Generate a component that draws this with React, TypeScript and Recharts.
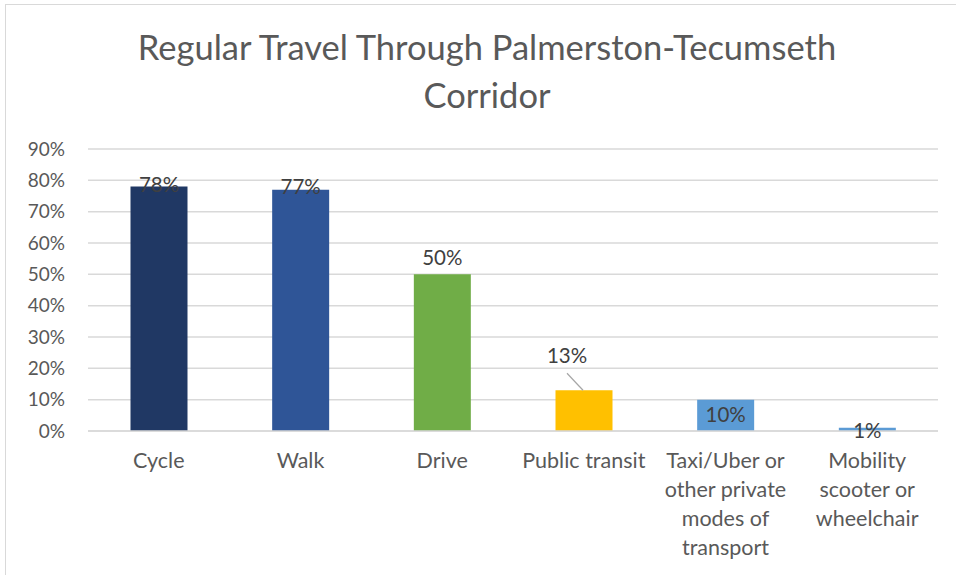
import { BarChart, Bar, XAxis, YAxis, CartesianGrid, Cell, LabelList } from "recharts";

const categories = ["Cycle", "Walk", "Drive", "Public transit", "Taxi/Uber", "Mobility"];
const shares = [0.78, 0.77, 0.5, 0.13, 0.1, 0.01];
const tickLines = [
  ["Cycle"],
  ["Walk"],
  ["Drive"],
  ["Public transit"],
  ["Taxi/Uber or", "other private", "modes of", "transport"],
  ["Mobility", "scooter or", "wheelchair"],
];
const yTicks = [0, 0.1, 0.2, 0.3, 0.4, 0.5, 0.6, 0.7, 0.8, 0.9];

const barColors = ["#203864", "#2F5597", "#70AD47", "#FFC000", "#5B9BD5", "#5B9BD5"];
// where Excel put each data label, relative to the bar top
const labelNudge = [
  { dx: 0, dy: -3, leader: false },
  { dx: 0, dy: -4, leader: false },
  { dx: 0, dy: -17, leader: false },
  { dx: -17, dy: -35, leader: true },
  { dx: 0, dy: 14, leader: false },
  { dx: 0, dy: 2, leader: false },
];

const data = categories.map((name, i) => ({ name, value: shares[i], idx: i }));

const FONT = "Lato, 'Open Sans', sans-serif";
const TEXT = "#595959";

const pct = (v: number) => `${Math.round(v * 100)}%`;

function CategoryTick(props: any) {
  const { x, y, payload } = props;
  const lines = tickLines[payload.index] ?? [payload.value];
  return (
    <g>
      {lines.map((line: string, i: number) => (
        <text
          key={i}
          x={x}
          y={y + 21 + i * 29}
          textAnchor="middle"
          dominantBaseline="central"
          fill={TEXT}
          fontSize={21.5}
          fontFamily={FONT}
        >
          {line}
        </text>
      ))}
    </g>
  );
}

function BarLabel(props: any) {
  const { x, y, width, value, index } = props;
  const n = labelNudge[index];
  const cx = x + width / 2;
  return (
    <g>
      {n.leader && (
        <line x1={cx + n.dx} y1={y - 17} x2={cx - 1} y2={y} stroke="#A6A6A6" strokeWidth={1.2} />
      )}
      <text
        x={cx + n.dx}
        y={y + n.dy}
        textAnchor="middle"
        dominantBaseline="central"
        fill="#404040"
        fontSize={20.5}
        fontFamily={FONT}
      >
        {pct(value)}
      </text>
    </g>
  );
}

export default function App() {
  return (
    <div style={{ position: "absolute", left: 0, top: 0, width: 956, height: 575, background: "#fff", overflow: "hidden" }}>
      <div
        style={{
          position: "absolute",
          left: 5,
          top: 4,
          width: 980,
          height: 600,
          border: "1.5px solid #D9D9D9",
          boxSizing: "border-box",
        }}
      />
      <div
        style={{
          position: "absolute",
          left: 0,
          top: 23,
          width: 974,
          textAlign: "center",
          color: TEXT,
          fontFamily: FONT,
          fontSize: 34.5,
          lineHeight: "48px",
        }}
      >
        Regular Travel Through Palmerston-Tecumseth
        <br />
        Corridor
      </div>
      <div style={{ position: "absolute", left: 0, top: 0 }}>
        <BarChart
          width={956}
          height={575}
          data={data}
          margin={{ top: 149, right: 18, bottom: 14, left: 0 }}
          barCategoryGap="30%"
        >
          <CartesianGrid vertical={false} stroke="#D9D9D9" strokeWidth={1.5} />
          <XAxis
            dataKey="name"
            height={130}
            tickLine={false}
            axisLine={{ stroke: "#D9D9D9", strokeWidth: 1.5 }}
            interval={0}
            tick={<CategoryTick />}
          />
          <YAxis
            width={88}
            domain={[0, 0.9]}
            ticks={yTicks}
            tickFormatter={pct}
            axisLine={false}
            tickLine={false}
            tickMargin={17}
            tick={{ fill: TEXT, fontSize: 19, fontFamily: FONT }}
          />
          <Bar dataKey="value" isAnimationActive={false}>
            {data.map((d, i) => (
              <Cell key={d.name} fill={barColors[i]} />
            ))}
            <LabelList dataKey="value" content={<BarLabel />} />
          </Bar>
        </BarChart>
      </div>
    </div>
  );
}
